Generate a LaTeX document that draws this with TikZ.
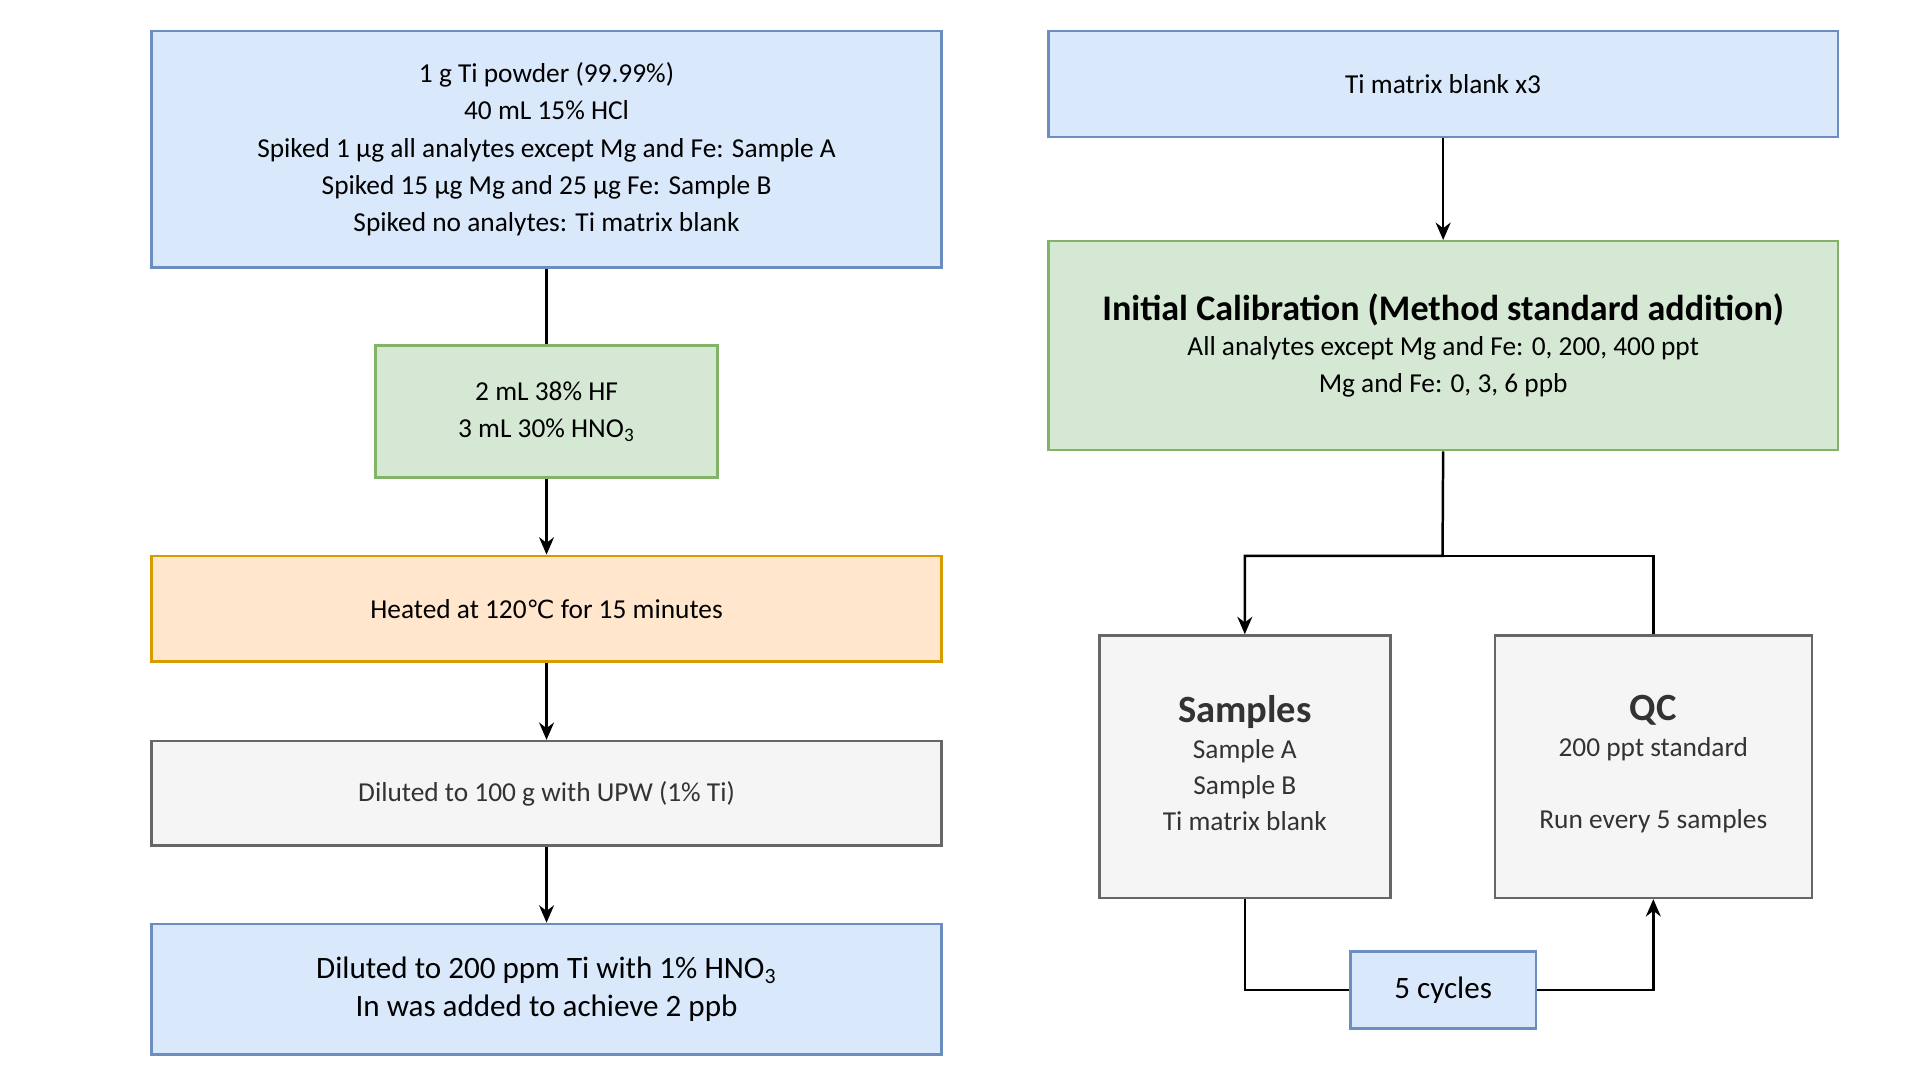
\documentclass[tikz,border=0pt]{standalone}
\usepackage{fontspec}
\setmainfont{Carlito}
\newfontfamily\dejavu{DejaVu Sans}
\usetikzlibrary{arrows.meta}
\definecolor{bfill}{HTML}{DAE8FC}\definecolor{bdraw}{HTML}{6C8EBF}
\definecolor{gfill}{HTML}{D5E8D4}\definecolor{gdraw}{HTML}{82B366}
\definecolor{ofill}{HTML}{FFE6CC}\definecolor{odraw}{HTML}{D79B00}
\definecolor{sfill}{HTML}{F5F5F5}\definecolor{sdraw}{HTML}{666666}
\tikzset{
 bx/.style={draw, line width=1pt, inner sep=0pt, align=center, font=\fontsize{11}{15}\selectfont},
 blue/.style={bx, fill=bfill, draw=bdraw},
 green/.style={bx, fill=gfill, draw=gdraw},
 orange/.style={bx, fill=ofill, draw=odraw},
 grey/.style={bx, fill=sfill, draw=sdraw, text=black!80},
 conn/.style={line width=1pt},
 arr/.style={conn, -{Stealth[length=7pt,width=6pt]}}
}
\begin{document}
\begin{tikzpicture}[x=0.5pt,y=-0.5pt]
\useasboundingbox (0,0) rectangle (1552,868);
\newcommand{\bxat}[6]{\node[#1, minimum width=#4*0.5pt-#2*0.5pt, minimum height=#5*0.5pt-#3*0.5pt] (#6) at ({(#2+#4)/2},{(#3+#5)/2})}
\bxat{blue}{122}{25}{757}{215}{a} {1 g Ti powder (99.99\%)\\40 mL 15\% HCl\\Spiked 1 µg all analytes except Mg and Fe: Sample A\\Spiked 15 µg Mg and 25 µg Fe: Sample B\\Spiked no analytes: Ti matrix blank};
\bxat{green}{302}{278}{577}{384}{b} {2 mL 38\% HF\\3 mL 30\% HNO\textsubscript{3}};
\bxat{orange}{122}{447}{757}{532}{c} {Heated at 120{\dejavu\fontsize{10}{12}\selectfont ℃} for 15 minutes};
\bxat{grey}{122}{596}{757}{680}{d} {Diluted to 100 g with UPW (1\% Ti)};
\bxat{blue}{122}{743}{757}{848}{e} {\fontsize{12.5}{20}\selectfont Diluted to 200 ppm Ti with 1\% HNO\textsubscript{3}\\\fontsize{12.5}{20}\selectfont In was added to achieve 2 ppb};
\bxat{blue}{843}{25}{1478}{110}{f} {Ti matrix blank x3};
\bxat{green}{843}{194}{1478}{362}{g} {{\fontsize{14.5}{17}\selectfont\bfseries Initial Calibration (Method standard addition)}\\[-1pt]All analytes except Mg and Fe: 0, 200, 400 ppt\\Mg and Fe: 0, 3, 6 ppb};
\node[grey, minimum width=234*0.5pt, minimum height=211*0.5pt] (h) at (1001,616.5) {};
\node[align=center, anchor=north, font=\fontsize{11}{14.5}\selectfont, text=black!80] at (1001,552) {{\fontsize{15.5}{18}\selectfont\bfseries Samples}\\Sample A\\Sample B\\Ti matrix blank};
\node[grey, minimum width=255*0.5pt, minimum height=211*0.5pt] (i) at (1329.5,616.5) {};
\node[align=center, anchor=north, font=\fontsize{11}{14.5}\selectfont, text=black!80] at (1329.5,552) {{\fontsize{15.5}{18}\selectfont\bfseries QC}\\200 ppt standard\\[14.5pt]Run every 5 samples};
\bxat{blue}{1086}{765}{1235}{827}{j} {\fontsize{12.5}{15}\selectfont 5 cycles};
\draw[conn] (a) -- (b);
\draw[arr] (b) -- (c);
\draw[arr] (c) -- (d);
\draw[arr] (d) -- (e);
\draw[arr] (f) -- (g);
\coordinate (k) at (1160,447);
\draw[arr] (g.south) -- (k) -| (h.north);
\draw[conn] (k) -| (i.north);
\draw[conn] (h.south) |- (j.west);
\draw[arr] (j.east) -| (i.south);
\end{tikzpicture}
\end{document}
